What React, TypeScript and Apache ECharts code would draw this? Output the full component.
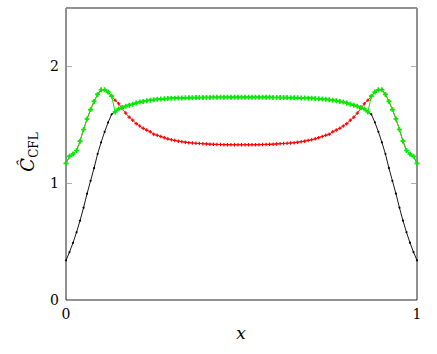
import React, { useEffect, useRef } from "react";
import * as echarts from "echarts";

// sampling grid x = 0 .. 1 (step 0.01)
const xs: number[] = Array.from({ length: 101 }, (_, i) => i / 100);

const blackVals: number[] = [
  0.34, 0.41, 0.49, 0.58, 0.68, 0.79, 0.91, 1.02, 1.13, 1.25,
  1.35, 1.44, 1.52, 1.59, 1.61, 1.635, 1.648, 1.658, 1.668, 1.677,
  1.686, 1.695, 1.70, 1.706, 1.711, 1.715, 1.718, 1.721, 1.723, 1.725,
  1.727, 1.728, 1.729, 1.730, 1.731, 1.732, 1.732, 1.733, 1.733, 1.734,
  1.734, 1.734, 1.735, 1.735, 1.735, 1.735, 1.735, 1.735, 1.735, 1.735,
  1.735,
  1.735, 1.735, 1.735, 1.735, 1.735, 1.735, 1.735, 1.735, 1.734, 1.734,
  1.734, 1.733, 1.733, 1.732, 1.732, 1.731, 1.730, 1.729, 1.728, 1.727,
  1.725, 1.723, 1.721, 1.718, 1.715, 1.711, 1.706, 1.70, 1.695, 1.686,
  1.677, 1.668, 1.658, 1.648, 1.635, 1.61, 1.59, 1.52, 1.44, 1.35,
  1.25, 1.13, 1.02, 0.91, 0.79, 0.68, 0.58, 0.49, 0.41, 0.34,
];

const redVals: number[] = [
  1.17, 1.23, 1.25, 1.28, 1.36, 1.46, 1.55, 1.63, 1.70, 1.76,
  1.80, 1.80, 1.78, 1.745, 1.71, 1.68, 1.64, 1.60, 1.565, 1.54,
  1.51, 1.49, 1.47, 1.455, 1.44, 1.42, 1.41, 1.40, 1.39, 1.38,
  1.372, 1.366, 1.36, 1.355, 1.351, 1.347, 1.344, 1.342, 1.340, 1.338,
  1.336, 1.334, 1.333, 1.332, 1.331, 1.330, 1.330, 1.329, 1.329, 1.329,
  1.329,
  1.329, 1.329, 1.329, 1.330, 1.330, 1.331, 1.332, 1.333, 1.334, 1.336,
  1.338, 1.340, 1.342, 1.344, 1.347, 1.351, 1.355, 1.36, 1.366, 1.372,
  1.38, 1.39, 1.40, 1.41, 1.42, 1.44, 1.455, 1.47, 1.49, 1.51,
  1.54, 1.565, 1.60, 1.64, 1.68, 1.71, 1.745, 1.78, 1.80, 1.80,
  1.76, 1.70, 1.63, 1.55, 1.46, 1.36, 1.28, 1.25, 1.23, 1.17,
];

const greenVals: number[] = [
  1.17, 1.23, 1.25, 1.28, 1.36, 1.46, 1.55, 1.63, 1.70, 1.76,
  1.80, 1.80, 1.78, 1.745, 1.61, 1.635, 1.648, 1.658, 1.668, 1.677,
  1.686, 1.695, 1.70, 1.706, 1.711, 1.715, 1.718, 1.721, 1.723, 1.725,
  1.727, 1.728, 1.729, 1.730, 1.731, 1.732, 1.732, 1.733, 1.733, 1.734,
  1.734, 1.734, 1.735, 1.735, 1.735, 1.735, 1.735, 1.735, 1.735, 1.735,
  1.735,
  1.735, 1.735, 1.735, 1.735, 1.735, 1.735, 1.735, 1.735, 1.734, 1.734,
  1.734, 1.733, 1.733, 1.732, 1.732, 1.731, 1.730, 1.729, 1.728, 1.727,
  1.725, 1.723, 1.721, 1.718, 1.715, 1.711, 1.706, 1.70, 1.695, 1.686,
  1.677, 1.668, 1.658, 1.648, 1.635, 1.61, 1.745, 1.78, 1.80, 1.80,
  1.76, 1.70, 1.63, 1.55, 1.46, 1.36, 1.28, 1.25, 1.23, 1.17,
];

const xTicks: number[] = [0, 1];
const yTicks: number[] = [0, 1, 2];

const PLUS = "path://M2,0H4V2H6V4H4V6H2V4H0V2H2Z";
const SERIF = "DejaVu Serif";

export default function App() {
  const ref = useRef<HTMLDivElement>(null);
  useEffect(() => {
    if (!ref.current) return;
    const chart = echarts.init(ref.current, undefined, { renderer: "svg" });
    const pts = (vals: number[]) => xs.map((x, i) => [x, vals[i]]);
    const yAxisBase = {
      type: "value" as const,
      min: 0,
      max: 2.5,
      interval: 1,
      axisLine: { show: false },
      splitLine: { show: false },
      axisTick: { show: true, inside: true, length: 6, lineStyle: { color: "#999", width: 0.8 } },
    };
    chart.setOption({
      animation: false,
      grid: {
        left: 66,
        right: 20,
        top: 8,
        bottom: 54,
        show: true,
        borderColor: "#222",
        borderWidth: 1,
        backgroundColor: "transparent",
      },
      xAxis: {
        type: "value",
        min: xTicks[0],
        max: xTicks[xTicks.length - 1],
        interval: 1,
        axisLine: { show: false },
        splitLine: { show: false },
        axisTick: { show: false },
        axisLabel: { color: "#000", fontSize: 14, fontFamily: SERIF, margin: 7 },
      },
      yAxis: [
        {
          ...yAxisBase,
          position: "left",
          axisLabel: {
            color: "#000",
            fontSize: 14,
            fontFamily: SERIF,
            margin: 7,
            formatter: (v: number) => (yTicks.includes(v) ? String(v) : ""),
          },
        },
        { ...yAxisBase, position: "right", axisLabel: { show: false } },
      ],
      series: [
        {
          type: "line",
          data: pts(blackVals),
          symbol: "circle",
          symbolSize: 2,
          itemStyle: { color: "#000" },
          lineStyle: { color: "#000", width: 0.9 },
          z: 2,
        },
        {
          type: "line",
          data: pts(redVals),
          symbol: PLUS,
          symbolSize: 3.5,
          itemStyle: { color: "#ff0000" },
          lineStyle: { color: "#ff0000", width: 0.9 },
          z: 3,
        },
        {
          type: "line",
          data: pts(greenVals),
          symbol: PLUS,
          symbolSize: 5,
          itemStyle: { color: "#00ee00" },
          lineStyle: { color: "#00ee00", width: 1 },
          z: 4,
        },
      ],
      graphic: [
        {
          type: "text",
          x: 29,
          y: 152,
          rotation: Math.PI / 2,
          style: {
            text: "{c|Ĉ}{s|CFL}",
            align: "center",
            verticalAlign: "middle",
            fill: "#000",
            rich: {
              c: { fontFamily: SERIF, fontStyle: "italic", fontSize: 18, lineHeight: 22, verticalAlign: "top" },
              s: { fontFamily: SERIF, fontSize: 12, lineHeight: 14, verticalAlign: "bottom" },
            },
          },
        },
        {
          type: "text",
          x: 241,
          y: 333,
          style: {
            text: "x",
            align: "center",
            verticalAlign: "middle",
            fill: "#000",
            fontFamily: SERIF,
            fontStyle: "italic",
            fontSize: 17,
          },
        },
      ],
    });
    return () => chart.dispose();
  }, []);
  return (
    <div
      ref={ref}
      style={{ position: "absolute", left: 0, top: 0, width: 437, height: 354 }}
    />
  );
}
